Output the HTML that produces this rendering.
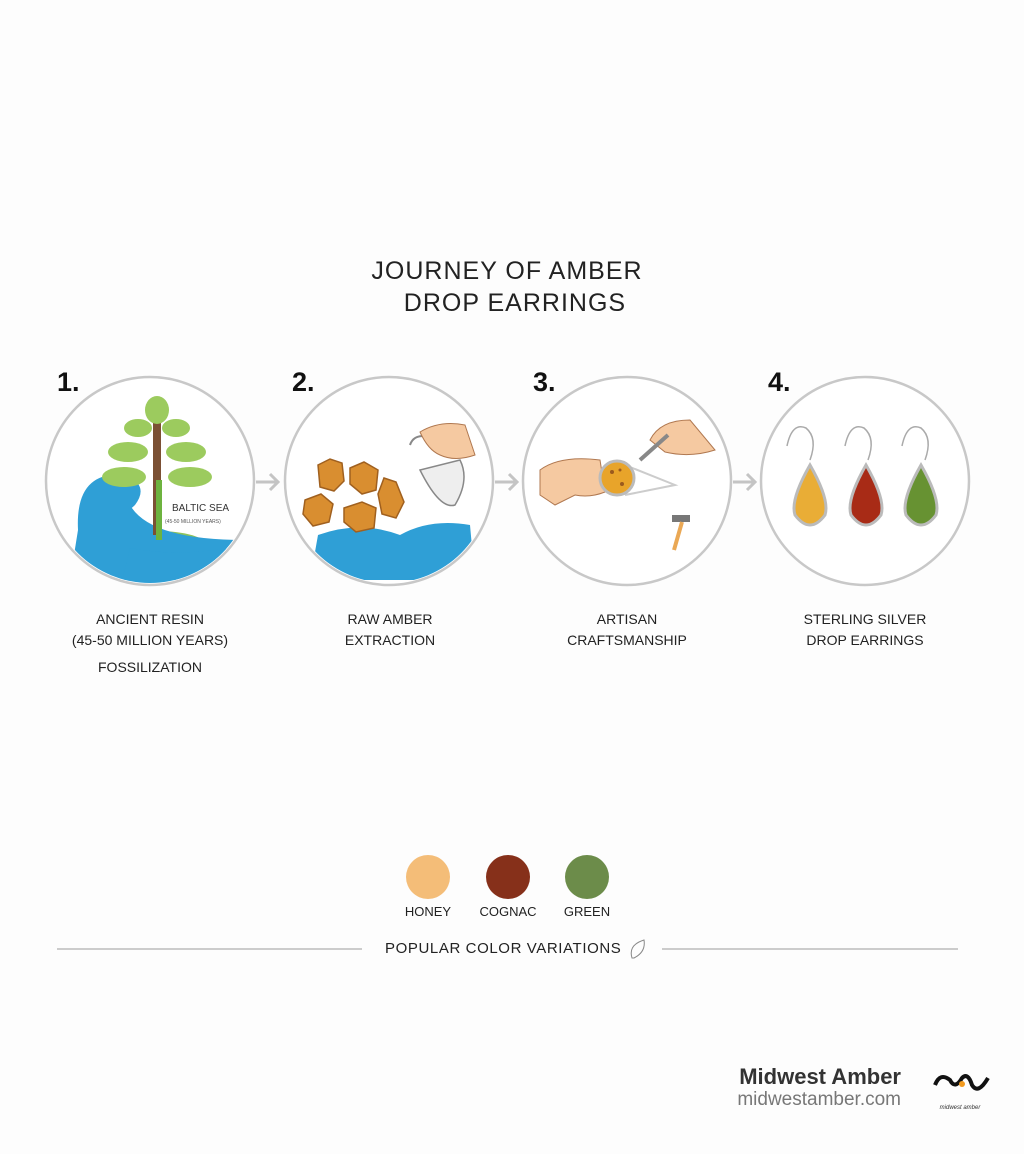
<!DOCTYPE html>
<html><head><meta charset="utf-8"><style>
html,body{margin:0;padding:0;background:#fdfdfd;}
body{width:1024px;height:1154px;position:relative;overflow:hidden;font-family:"Liberation Sans",sans-serif;color:#222;}
.t{position:absolute;text-align:center;white-space:nowrap;}
</style></head><body>
<svg width="1024" height="1154" style="position:absolute;left:0;top:0">
<defs><clipPath id="c1"><circle cx="150" cy="481" r="102"/></clipPath><clipPath id="c2"><circle cx="389" cy="481" r="102"/></clipPath></defs>
<g fill="#fff" stroke="#c8c8c8" stroke-width="2.5">
<circle cx="150" cy="481" r="104"/><circle cx="389" cy="481" r="104"/><circle cx="627" cy="481" r="104"/><circle cx="865" cy="481" r="104"/>
</g>
<g stroke="#c4c4c4" stroke-width="3" fill="none">
<path d="M256 482h22M270 474l8 8-8 8"/><path d="M495 482h22M509 474l8 8-8 8"/><path d="M733 482h22M747 474l8 8-8 8"/>
</g>
<g clip-path="url(#c1)">
<ellipse cx="158" cy="545" rx="48" ry="14" fill="#8fc35a"/>
<path d="M78 530 Q75 470 125 475 Q150 485 135 505 Q120 520 110 505 Q105 490 120 495 L130 505 Q150 540 245 540 L250 580 L70 580Z" fill="#2f9fd6"/>
<path d="M130 548 Q180 558 250 545 L250 590 L120 590Z" fill="#2f9fd6"/>
<rect x="153" y="420" width="8" height="115" fill="#7b5034"/>
<g fill="#9ccb5e">
<ellipse cx="157" cy="410" rx="12" ry="14"/><ellipse cx="138" cy="428" rx="14" ry="9"/><ellipse cx="176" cy="428" rx="14" ry="9"/>
<ellipse cx="128" cy="452" rx="20" ry="10"/><ellipse cx="186" cy="452" rx="20" ry="10"/>
<ellipse cx="124" cy="477" rx="22" ry="10"/><ellipse cx="190" cy="477" rx="22" ry="10"/>
</g>
<rect x="156" y="480" width="6" height="60" fill="#6db33f"/>
</g>
<text x="172" y="511" font-size="10" fill="#333">BALTIC SEA</text>
<text x="165" y="523" font-size="5" fill="#555">(45-50 MILLION YEARS)</text>
<g clip-path="url(#c2)">
<path d="M318 535 Q360 520 400 535 Q430 518 470 525 L475 580 L310 580Z" fill="#2f9fd6"/>
</g>
<g fill="#d98e30" stroke="#a0601f" stroke-width="1.5">
<path d="M318 465 l12 -6 12 4 2 18 -10 10 -14 -4z"/><path d="M350 468 l14 -6 14 8 -2 20 -14 4 -12 -10z"/>
<path d="M384 478 l12 4 8 20 -8 16 -14 -4 -4 -20z"/><path d="M305 500 l16 -6 12 10 -4 18 -16 4 -10 -12z"/>
<path d="M344 508 l18 -6 14 6 -2 20 -18 4 -12 -10z"/>
</g>
<path d="M420 470 Q440 510 455 505 Q470 480 460 460 Z" fill="#eee" stroke="#888" stroke-width="1.5"/>
<path d="M410 445 Q415 430 440 440" stroke="#888" stroke-width="2" fill="none"/>
<path d="M420 432 Q440 420 465 425 L475 455 Q455 462 440 455 Q428 450 420 432Z" fill="#f5c9a1" stroke="#b07850" stroke-width="1"/>
<path d="M540 470 Q560 455 600 460 L605 492 Q590 498 575 495 L555 505 L540 495Z" fill="#f5c9a1" stroke="#b07850" stroke-width="1"/>
<path d="M650 440 Q660 420 690 420 L715 450 Q690 458 665 452Z" fill="#f5c9a1" stroke="#b07850" stroke-width="1"/>
<path d="M640 460 L668 435" stroke="#888" stroke-width="4"/>
<path d="M625 465 L675 485 L625 495" stroke="#ccc" stroke-width="2" fill="none"/>
<circle cx="617" cy="478" r="17" fill="#e8a42a" stroke="#bbb" stroke-width="3"/>
<g fill="#9a5a1e"><circle cx="612" cy="472" r="2"/><circle cx="622" cy="484" r="2"/><circle cx="620" cy="470" r="1.5"/></g>
<rect x="672" y="515" width="18" height="7" fill="#777"/><path d="M682 522 L674 550" stroke="#eaa855" stroke-width="4"/>
<g fill="none" stroke="#aaa" stroke-width="1.5">
<path d="M787 446 Q792 422 806 428 Q818 438 810 460"/><path d="M845 446 Q850 422 864 428 Q876 438 868 460"/><path d="M902 446 Q907 422 921 428 Q933 438 925 460"/>
</g>
<path d="M810 465 Q790 500 795 515 Q810 535 825 515 Q830 500 810 465Z" fill="#e9ad36" stroke="#bbb" stroke-width="3"/>
<path d="M866 465 Q846 500 851 515 Q866 535 881 515 Q886 500 866 465Z" fill="#a82b16" stroke="#bbb" stroke-width="3"/>
<path d="M921 465 Q901 500 906 515 Q921 535 936 515 Q941 500 921 465Z" fill="#679232" stroke="#bbb" stroke-width="3"/>
<circle cx="428" cy="877" r="22" fill="#f4bd78"/><circle cx="508" cy="877" r="22" fill="#86301a"/><circle cx="587" cy="877" r="22" fill="#6c8c4a"/>
<path d="M57 949H362M662 949H958" stroke="#bbb" stroke-width="1.5"/>
<path d="M632 958 Q628 945 644 940 Q646 952 634 958Z" fill="none" stroke="#888" stroke-width="1"/>
<path d="M935 1085 Q940 1072 950 1080 Q955 1090 962 1078 Q968 1072 972 1085 Q978 1095 988 1078" stroke="#111" stroke-width="4" fill="none"/>
<circle cx="962" cy="1084" r="3" fill="#f29a1e"/>
<text x="960" y="1109" font-size="6" text-anchor="middle" fill="#333" font-style="italic">midwest amber</text>
</svg>
<div class="t" style="left:312px;top:255px;width:390px;font-size:25px;line-height:32px;color:#222;letter-spacing:1px">JOURNEY OF AMBER<br>&nbsp;&nbsp;DROP EARRINGS</div>
<div class="t" style="left:57px;top:367px;font-size:27px;font-weight:bold;color:#111">1.</div>
<div class="t" style="left:292px;top:367px;font-size:27px;font-weight:bold;color:#111">2.</div>
<div class="t" style="left:533px;top:367px;font-size:27px;font-weight:bold;color:#111">3.</div>
<div class="t" style="left:768px;top:367px;font-size:27px;font-weight:bold;color:#111">4.</div>
<div class="t" style="left:50px;top:609px;width:200px;font-size:14px;line-height:21px">ANCIENT RESIN<br>(45-50 MILLION YEARS)</div>
<div class="t" style="left:50px;top:659px;width:200px;font-size:14px">FOSSILIZATION</div>
<div class="t" style="left:290px;top:609px;width:200px;font-size:14px;line-height:21px">RAW AMBER<br>EXTRACTION</div>
<div class="t" style="left:527px;top:609px;width:200px;font-size:14px;line-height:21px">ARTISAN<br>CRAFTSMANSHIP</div>
<div class="t" style="left:765px;top:609px;width:200px;font-size:14px;line-height:21px">STERLING SILVER<br>DROP EARRINGS</div>
<div class="t" style="left:398px;top:904px;width:60px;font-size:13px">HONEY</div>
<div class="t" style="left:478px;top:904px;width:60px;font-size:13px">COGNAC</div>
<div class="t" style="left:557px;top:904px;width:60px;font-size:13px">GREEN</div>
<div class="t" style="left:385px;top:940px;font-size:15px;letter-spacing:0.6px">POPULAR COLOR VARIATIONS</div>
<div class="t" style="left:700px;top:1064px;width:201px;text-align:right;font-size:22px;font-weight:bold;color:#333">Midwest Amber</div>
<div class="t" style="left:700px;top:1089px;width:201px;text-align:right;font-size:19px;color:#777">midwestamber.com</div>
</body></html>
